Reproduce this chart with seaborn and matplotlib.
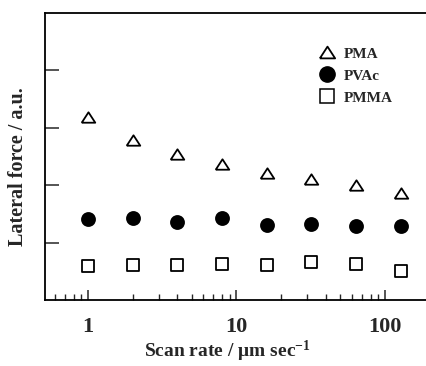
import numpy as np
import pandas as pd
import matplotlib
matplotlib.use("Agg")
import matplotlib.pyplot as plt
import seaborn as sns
from matplotlib.lines import Line2D
from matplotlib.ticker import LogLocator, NullFormatter

# Data
scan_rate = [1, 2, 4, 8, 16, 32, 64, 128]
pma = [3.19, 2.79, 2.55, 2.37, 2.22, 2.11, 2.01, 1.87]
pvac = [1.41, 1.42, 1.36, 1.42, 1.31, 1.33, 1.29, 1.29]
pmma = [0.59, 0.61, 0.61, 0.63, 0.61, 0.66, 0.63, 0.51]
series_names = ["PMA", "PVAc", "PMMA"]

sns.set_style("ticks")
plt.rcParams['font.family'] = ['Liberation Serif', 'DejaVu Serif']
plt.rcParams['font.weight'] = 'bold'
plt.rcParams['mathtext.fontset'] = 'custom'
plt.rcParams['mathtext.rm'] = 'Liberation Serif:bold'
plt.rcParams['mathtext.default'] = 'rm'

fig = plt.figure(figsize=(4.26, 3.66), dpi=100)
ax = fig.add_axes([45 / 426, 66 / 366, 381 / 426, 287 / 366])

df = pd.DataFrame({"rate": scan_rate * 3,
                   "force": pma + pvac + pmma,
                   "polymer": np.repeat(series_names, len(scan_rate))})

tri = [(-1, -0.77), (1, -0.77), (0, 0.77), (-1, -0.77)]
styles = {
    "PMA": dict(marker=tri, facecolor="white", s=95),
    "PVAc": dict(marker="o", facecolor="black", s=88),
    "PMMA": dict(marker="s", facecolor="white", s=85),
}
for name in series_names:
    st = styles[name]
    sns.scatterplot(data=df[df["polymer"] == name], x="rate", y="force",
                    marker=st["marker"], s=st["s"], facecolor=st["facecolor"],
                    edgecolor="black", linewidth=1.3, ax=ax, zorder=3)

ax.set_xscale("log")
ax.set_xlim(0.514, 189)
ax.set_ylim(0, 5)
ax.set_yticks([1, 2, 3, 4])
ax.set_yticklabels([])
ax.set_xticks([1, 10, 100])
ax.set_xticklabels(["1", "10", "100"])
ax.xaxis.set_minor_locator(LogLocator(base=10, subs=np.arange(2, 10)))
ax.xaxis.set_minor_formatter(NullFormatter())

ax.tick_params(axis="y", direction="in", length=10, width=1.1)
ax.tick_params(axis="x", which="major", direction="in", length=7, width=1.1,
               labelsize=16, pad=12)
ax.tick_params(axis="x", which="minor", direction="in", length=4, width=1.0)

for side in ["left", "bottom", "top"]:
    ax.spines[side].set_linewidth(1.3)
    ax.spines[side].set_color("black")
ax.spines["right"].set_visible(False)

ax.set_xlabel("Scan rate / μm sec$^{-1}$", fontsize=14, fontweight="bold")
ax.xaxis.set_label_coords(0.48, -0.135)
ax.set_ylabel("Lateral force / a.u.", fontsize=14.5, fontweight="bold")
ax.yaxis.set_label_coords(-0.045, 0.463)

handles = [
    Line2D([], [], linestyle="none", marker=tri, markersize=11, markerfacecolor="white",
           markeredgecolor="black", markeredgewidth=1.3),
    Line2D([], [], linestyle="none", marker="o", markersize=11, markerfacecolor="black",
           markeredgecolor="black"),
    Line2D([], [], linestyle="none", marker="s", markersize=10, markerfacecolor="white",
           markeredgecolor="black", markeredgewidth=1.1),
]
leg = ax.legend(handles, series_names, loc="upper left", bbox_to_anchor=(0.68, 0.93),
                frameon=False, fontsize=11, handletextpad=0.5, labelspacing=0.55,
                handlelength=1.2)
for t in leg.get_texts():
    t.set_fontweight("bold")

fig.savefig("out.png", dpi=100)
